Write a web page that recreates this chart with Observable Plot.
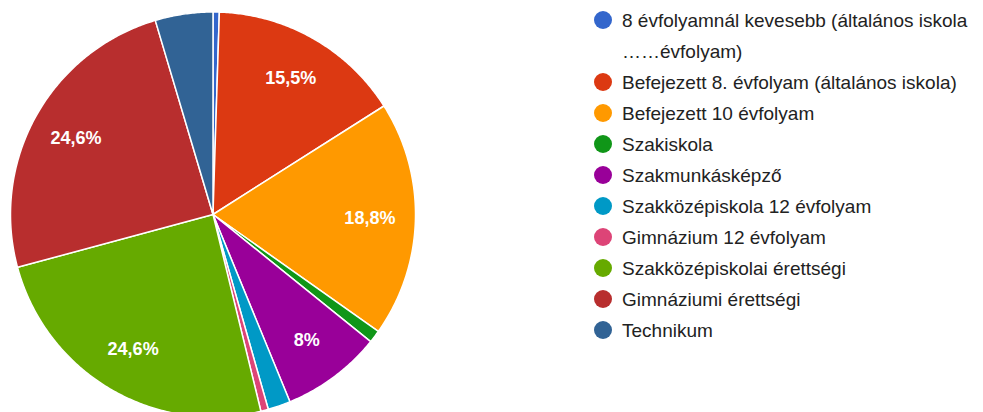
<!DOCTYPE html>
<html><head><meta charset="utf-8">
<script src="https://cdn.jsdelivr.net/npm/d3@7"></script>
<script src="https://cdn.jsdelivr.net/npm/@observablehq/plot@0.6"></script>
<style>
body{margin:0;background:#fff;font-family:Arial,"Liberation Sans",sans-serif;}
#wrap{position:relative;width:983px;height:412px;overflow:hidden;background:#fff;}
#legend{position:absolute;left:594px;top:4.5px;font-size:19px;line-height:31px;color:#222;}
.item{display:flex;align-items:flex-start;}
.sw{width:18px;height:18px;border-radius:50%;margin-top:6.5px;margin-right:10px;flex:none;}
.lab{width:360px;}
</style></head><body><div id="wrap"><div id="legend"></div></div>
<script>
const categories = [
  "8 évfolyamnál kevesebb (általános iskola ……évfolyam)",
  "Befejezett 8. évfolyam (általános iskola)",
  "Befejezett 10 évfolyam",
  "Szakiskola",
  "Szakmunkásképző",
  "Szakközépiskola 12 évfolyam",
  "Gimnázium 12 évfolyam",
  "Szakközépiskolai érettségi",
  "Gimnáziumi érettségi",
  "Technikum"
];
const values = [0.5, 15.5, 18.8, 1.0, 8.0, 1.8, 0.6, 24.6, 24.6, 4.6];
const colors = ["#3366cc","#dc3912","#ff9900","#109618","#990099","#0099c6","#dd4477","#66aa00","#b82e2e","#316395"];

const W = 983, H = 412, CX = 212.5, CY = 214, R = 202.5;
const rows = categories.map((name, i) => ({name, value: values[i]}));
const arcs = d3.pie().sort(null).value(d => d.value)(rows);

const pts = [];
for (const a of arcs) {
  const name = a.data.name;
  const n = Math.max(2, Math.ceil((a.endAngle - a.startAngle) / (Math.PI / 360)));
  pts.push({name, x: 0, y: 0});
  for (let k = 0; k <= n; k++) {
    const t = a.startAngle + (a.endAngle - a.startAngle) * k / n;
    pts.push({name, x: Math.sin(t), y: Math.cos(t)});
  }
  pts.push({name, x: 0, y: 0});
}
const labels = arcs.filter(a => a.data.value >= 5).map(a => {
  const m = (a.startAngle + a.endAngle) / 2;
  return {x: 0.775 * Math.sin(m), y: 0.775 * Math.cos(m), text: String(a.data.value).replace(".", ",") + "%"};
});

const chart = Plot.plot({
  width: W, height: H, margin: 0,
  style: {background: "transparent", fontFamily: "Arial, 'Liberation Sans', sans-serif"},
  x: {domain: [-CX / R, (W - CX) / R], axis: null},
  y: {domain: [(CY - H) / R, CY / R], axis: null},
  color: {domain: categories, range: colors},
  marks: [
    Plot.line(pts, {x: "x", y: "y", z: "name", fill: "name", stroke: "white", strokeWidth: 1.5, curve: "linear"}),
    Plot.text(labels, {x: "x", y: "y", text: "text", fill: "white", fontSize: 18, fontWeight: "bold"})
  ]
});
const wrap = document.getElementById("wrap");
wrap.insertBefore(chart, wrap.firstChild);

const legend = document.getElementById("legend");
categories.forEach((c, i) => {
  const it = document.createElement("div");
  it.className = "item";
  const sw = document.createElement("span");
  sw.className = "sw";
  sw.style.background = colors[i];
  const lab = document.createElement("span");
  lab.className = "lab";
  lab.textContent = c;
  it.appendChild(sw); it.appendChild(lab);
  legend.appendChild(it);
});
</script></body></html>
